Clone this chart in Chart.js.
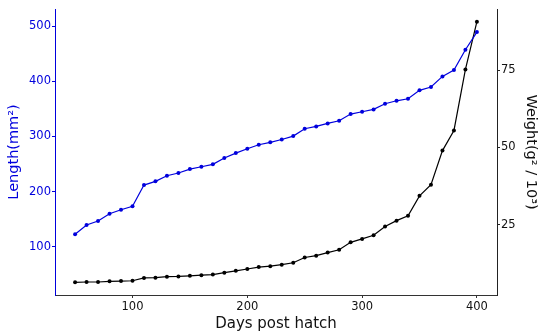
<!DOCTYPE html>
<html>
<head>
<meta charset="utf-8">
<script src="https://cdn.jsdelivr.net/npm/chart.js@4"></script>
<style>
  html, body { margin: 0; padding: 0; background: #fff; }
</style>
</head>
<body>
<canvas id="chart" width="550" height="333"></canvas>
<script>
const days = [50, 60, 70, 80, 90, 100, 110, 120, 130, 140, 150, 160, 170, 180, 190, 200, 210, 220,
              230, 240, 250, 260, 270, 280, 290, 300, 310, 320, 330, 340, 350, 360, 370, 380, 390, 400];
const lengthValues = [122.5, 139.3, 146.6, 159.8, 167, 173.2, 211.8, 218.5, 228.7, 233.6, 240.8, 245, 249.4, 260.8,
                      269.8, 277.6, 284.9, 289.2, 294.4, 300.6, 313.9, 318.2, 323.6, 328.4, 340.5, 344.7, 349,
                      359.2, 364.6, 368.3, 383.5, 389.5, 408.8, 420.3, 457.1, 489.2];
const weightValues = [6.5, 6.6, 6.6, 6.8, 6.9, 7.0, 7.9, 8.0, 8.3, 8.4, 8.6, 8.8, 9.0, 9.6, 10.2, 10.8, 11.4, 11.7,
                      12.2, 12.8, 14.5, 15.1, 16.1, 17.0, 19.4, 20.5, 21.7, 24.5, 26.4, 28.0, 34.4, 38.0, 49.0,
                      55.5, 75.2, 90.6];
const xTicks = [100, 200, 300, 400];
const lengthTicks = [100, 200, 300, 400, 500];
const weightTicks = [25, 50, 75];

const blue = '#0000dd';
const font = 'DejaVu Sans';
const tickFont = { family: font, size: 11.5 };

const fixTicks = (list) => (scale) => { scale.ticks = list.map(v => ({ value: v })); };

new Chart(document.getElementById('chart'), {
    type: 'line',
    data: {
        datasets: [{
            label: 'Length',
            data: days.map((d, i) => ({ x: d, y: lengthValues[i] })),
            borderColor: blue,
            backgroundColor: blue,
            borderWidth: 1.2,
            pointRadius: 2,
            pointBorderWidth: 0,
            yAxisID: 'y'
        }, {
            label: 'Weight',
            data: days.map((d, i) => ({ x: d, y: weightValues[i] })),
            borderColor: '#000',
            backgroundColor: '#000',
            borderWidth: 1.2,
            pointRadius: 2,
            pointBorderWidth: 0,
            yAxisID: 'y1'
        }]
    },
    options: {
        responsive: false,
        animation: false,
        layout: { padding: { top: 9, left: 0, right: 0, bottom: 0 } },
        plugins: { legend: { display: false }, tooltip: { enabled: false } },
        scales: {
            x: {
                type: 'linear',
                min: 32.5,
                max: 417.5,
                afterBuildTicks: fixTicks(xTicks),
                afterFit: (s) => { s.height = 38; },
                border: { display: true, color: '#333', width: 1 },
                grid: { display: true, drawOnChartArea: false, drawTicks: true, tickLength: 3, color: '#333' },
                ticks: { color: '#111', font: tickFont, padding: 2, maxRotation: 0 },
                title: { display: true, text: 'Days post hatch', color: '#111',
                         font: { family: font, size: 15 }, padding: { top: 5, bottom: 0 } }
            },
            y: {
                position: 'left',
                min: 12.5,
                max: 531,
                afterBuildTicks: fixTicks(lengthTicks),
                afterFit: (s) => { s.width = 55; },
                border: { display: true, color: blue, width: 1 },
                grid: { display: true, drawOnChartArea: false, drawTicks: true, tickLength: 3, color: blue },
                ticks: { color: blue, font: tickFont, padding: 1 },
                title: { display: true, text: 'Length(mm²)', color: blue,
                         font: { family: font, size: 14.5 }, padding: { top: 6, bottom: 0 } }
            },
            y1: {
                position: 'right',
                min: 2.4,
                max: 94.7,
                afterBuildTicks: fixTicks(weightTicks),
                afterFit: (s) => { s.width = 53; },
                border: { display: true, color: '#222', width: 1 },
                grid: { display: true, drawOnChartArea: false, drawTicks: true, tickLength: 3, color: '#222' },
                ticks: { color: '#111', font: tickFont, padding: 1 },
                title: { display: true, text: 'Weight(g² / 10³)', color: '#111',
                         font: { family: font, size: 14.5 }, padding: { top: 11, bottom: 0 } }
            }
        }
    }
});
</script>
</body>
</html>
